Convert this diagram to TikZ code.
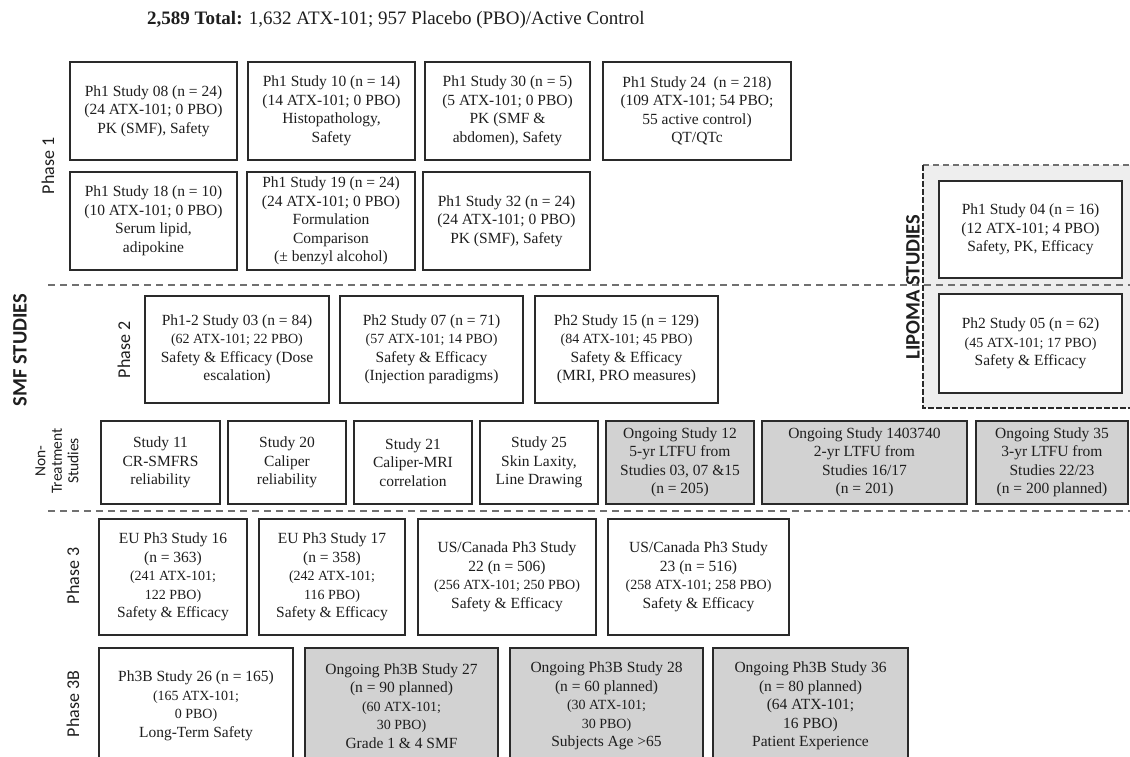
\documentclass[tikz,border=0pt]{standalone}
\usepackage{fontspec}
\setmainfont{Liberation Serif}
\newfontfamily\labfont{Carlito}
\definecolor{boxline}{HTML}{2A2A2A}
\definecolor{txt}{HTML}{1E1E1E}
\definecolor{ongoing}{HTML}{D2D2D2}
\definecolor{lipfill}{HTML}{EEEEEE}
\definecolor{dashcol}{HTML}{707070}
\newcommand{\sml}[1]{{\fontsize{14}{18.5}\selectfont #1}}
\begin{document}
\begin{tikzpicture}[x=1pt,y=-1pt,
  box/.style={draw=boxline, line width=2.3pt, fill=white, align=center, inner sep=1pt,
    text=txt, font=\fontsize{15.5}{18.5}\selectfont},
  gbox/.style={box, fill=ongoing},
  phase/.style={rotate=90, text=txt, font=\labfont\fontsize{18}{20}\selectfont},
  biglab/.style={rotate=90, text=txt, font=\labfont\bfseries\fontsize{20.5}{22}\selectfont},
  sep/.style={draw=dashcol, line width=1.8pt, dash pattern=on 7pt off 5pt}
]
\useasboundingbox (0,0) rectangle (1130,756);
\fill[white] (0,0) rectangle (1130,756);

% title
\node[anchor=west, text=txt, font=\fontsize{19}{22}\selectfont, inner sep=0pt] (title) at (147,20)
  {\textbf{2,589 Total:} 1,632 ATX-101; 957 Placebo (PBO)/Active Control};

% lipoma panel
\fill[lipfill] (923,165) rectangle (1135,408);
\draw[draw=dashcol, line width=1.5pt, dash pattern=on 6pt off 4pt] (923,165) -- (1135,165);
\draw[draw=boxline, line width=2.6pt, dash pattern=on 6pt off 2pt] (923,165) -- (923,408) -- (1135,408);

% separators
\draw[sep] (48,285) -- (1130,285);
\draw[sep] (48,511) -- (1130,511);

% labels
\node[biglab] (smf) at (20,350) {SMF STUDIES};
\node[biglab] (lip) at (913,287) {LIPOMA STUDIES};
\node[phase] (p1) at (48,166) {Phase 1};
\node[phase] (p2) at (124,350) {Phase 2};
\node[phase, align=center, font=\labfont\fontsize{15.5}{16.5}\selectfont] (pnt) at (57,461) {Non-\\Treatment\\Studies};
\node[phase] (p3) at (73,576) {Phase 3};
\node[phase] (p3b) at (73,704) {Phase 3B};

% Phase 1 row 1
\node[box, minimum width=167, minimum height=98] (b08) at (153.5,111)
  {Ph1 Study 08 (n = 24)\\(24 ATX-101; 0 PBO)\\PK (SMF), Safety};
\node[box, minimum width=167, minimum height=98] (b10) at (331.5,111)
  {Ph1 Study 10 (n = 14)\\(14 ATX-101; 0 PBO)\\Histopathology,\\Safety};
\node[box, minimum width=165, minimum height=98] (b30) at (507.5,111)
  {Ph1 Study 30 (n = 5)\\(5 ATX-101; 0 PBO)\\PK (SMF \&\\abdomen), Safety};
\node[box, minimum width=188, minimum height=98] (b24) at (697,111)
  {Ph1 Study 24\ \ (n = 218)\\(109 ATX-101; 54 PBO;\\55 active control)\\QT/QTc};
% Phase 1 row 2
\node[box, minimum width=167, minimum height=98] (b18) at (153.5,221)
  {Ph1 Study 18 (n = 10)\\(10 ATX-101; 0 PBO)\\Serum lipid,\\adipokine};
\node[box, minimum width=168, minimum height=98] (b19) at (331,221)
  {Ph1 Study 19 (n = 24)\\(24 ATX-101; 0 PBO)\\Formulation\\Comparison\\(± benzyl alcohol)};
\node[box, minimum width=167, minimum height=98] (b32) at (506.5,221)
  {Ph1 Study 32 (n = 24)\\(24 ATX-101; 0 PBO)\\PK (SMF), Safety};

% Phase 2
\node[box, minimum width=184, minimum height=107] (b03) at (237,349.5)
  {Ph1-2 Study 03 (n = 84)\\\sml{(62 ATX-101; 22 PBO)}\\Safety \& Efficacy (Dose\\escalation)};
\node[box, minimum width=183, minimum height=107] (b07) at (431.5,349.5)
  {Ph2 Study 07 (n = 71)\\\sml{(57 ATX-101; 14 PBO)}\\Safety \& Efficacy\\(Injection paradigms)};
\node[box, minimum width=183, minimum height=107] (b15) at (626.5,349.5)
  {Ph2 Study 15 (n = 129)\\\sml{(84 ATX-101; 45 PBO)}\\Safety \& Efficacy\\(MRI, PRO measures)};

% Lipoma
\node[box, minimum width=183, minimum height=97] (b04) at (1030.5,229.5)
  {Ph1 Study 04 (n = 16)\\(12 ATX-101; 4 PBO)\\Safety, PK, Efficacy};
\node[box, minimum width=183, minimum height=99] (b05) at (1030.5,343.5)
  {Ph2 Study 05 (n = 62)\\\sml{(45 ATX-101; 17 PBO)}\\Safety \& Efficacy};

% Non-treatment
\node[box, minimum width=119, minimum height=83] (b11) at (160.5,462.5)
  {Study 11\\CR-SMFRS\\reliability};
\node[box, minimum width=118, minimum height=83] (b20) at (287,462.5)
  {Study 20\\Caliper\\reliability};
\node[box, minimum width=118, minimum height=83] (b21) at (413,462.5)
  {Study 21\\Caliper-MRI\\correlation};
\node[box, minimum width=118, minimum height=83] (b25) at (539,462.5)
  {Study 25\\Skin Laxity,\\Line Drawing};
\node[gbox, minimum width=148, minimum height=83] (b12) at (680,462.5)
  {Ongoing Study 12\\5-yr LTFU from\\Studies 03, 07 \&15\\(n = 205)};
\node[gbox, minimum width=205, minimum height=83] (b1403740) at (864.5,462.5)
  {Ongoing Study 1403740\\2-yr LTFU from\\Studies 16/17\\(n = 201)};
\node[gbox, minimum width=152, minimum height=83] (b35) at (1052,462.5)
  {Ongoing Study 35\\3-yr LTFU from\\Studies 22/23\\(n = 200 planned)};

% Phase 3
\node[box, minimum width=148, minimum height=116] (b16) at (173,577)
  {EU Ph3 Study 16\\(n = 363)\\\sml{(241 ATX-101;}\\\sml{122 PBO)}\\Safety \& Efficacy};
\node[box, minimum width=146, minimum height=116] (b17) at (332,577)
  {EU Ph3 Study 17\\(n = 358)\\\sml{(242 ATX-101;}\\\sml{116 PBO)}\\Safety \& Efficacy};
\node[box, minimum width=178, minimum height=116] (b22) at (507,577)
  {US/Canada Ph3 Study\\22 (n = 506)\\\sml{(256 ATX-101; 250 PBO)}\\Safety \& Efficacy};
\node[box, minimum width=181, minimum height=116] (b23) at (698.5,577)
  {US/Canada Ph3 Study\\23 (n = 516)\\\sml{(258 ATX-101; 258 PBO)}\\Safety \& Efficacy};

% Phase 3B
\node[box, minimum width=194, minimum height=116] (b26) at (196,706)
  {Ph3B Study 26 (n = 165)\\\sml{(165 ATX-101;}\\\sml{0 PBO)}\\Long-Term Safety};
\node[gbox, minimum width=193, minimum height=116] (b27) at (401.5,706)
  {Ongoing Ph3B Study 27\\(n = 90 planned)\\\sml{(60 ATX-101;}\\\sml{30 PBO)}\\Grade 1 \& 4 SMF};
\node[gbox, minimum width=193, minimum height=116] (b28) at (606.5,706)
  {Ongoing Ph3B Study 28\\(n = 60 planned)\\\sml{(30 ATX-101;}\\\sml{30 PBO)}\\Subjects Age >65};
\node[gbox, minimum width=195, minimum height=116] (b36) at (810.5,706)
  {Ongoing Ph3B Study 36\\(n = 80 planned)\\(64 ATX-101;\\16 PBO)\\Patient Experience};
\end{tikzpicture}
\end{document}
